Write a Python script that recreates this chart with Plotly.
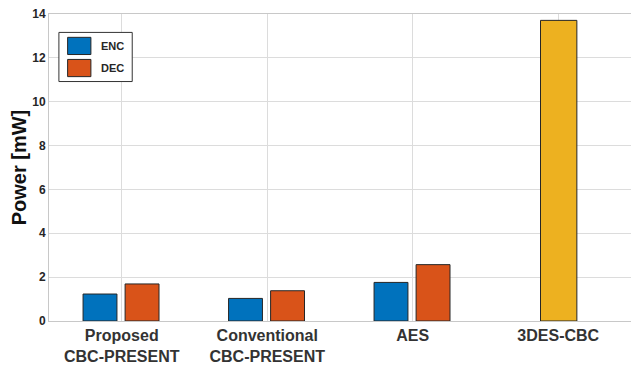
import plotly.graph_objects as go

categories = ["Proposed<br>CBC-PRESENT", "Conventional<br>CBC-PRESENT", "AES", "3DES-CBC"]
enc_values = [1.23, 1.03, 1.76]
dec_values = [1.69, 1.38, 2.57]
des3_values = [13.71]
y_ticks = [0, 2, 4, 6, 8, 10, 12, 14]

C_ENC = "#0072BD"
C_DEC = "#D95319"
C_3DES = "#EDB120"
EDGE = "#262626"
FONT = "Arial, Liberation Sans, sans-serif"

fig = go.Figure()
fig.add_trace(go.Bar(x=[1, 2, 3], y=enc_values, name="ENC", width=0.233, offset=-0.266,
                     marker=dict(color=C_ENC, line=dict(color=EDGE, width=1)), showlegend=False))
fig.add_trace(go.Bar(x=[1, 2, 3], y=dec_values, name="DEC", width=0.233, offset=0.023,
                     marker=dict(color=C_DEC, line=dict(color=EDGE, width=1)), showlegend=False))
fig.add_trace(go.Bar(x=[4], y=des3_values, name="3DES", width=0.25, offset=-0.122,
                     marker=dict(color=C_3DES, line=dict(color=EDGE, width=1)), showlegend=False))

# custom legend (paper coordinates)
shapes = [
    dict(type="rect", xref="paper", yref="paper", x0=0.017, x1=0.143, y0=0.78, y1=0.94,
         line=dict(color="#333333", width=1), fillcolor="white", layer="above"),
    dict(type="rect", xref="paper", yref="paper", x0=0.032, x1=0.072, y0=0.868, y1=0.924,
         line=dict(color=EDGE, width=1), fillcolor=C_ENC, layer="above"),
    dict(type="rect", xref="paper", yref="paper", x0=0.032, x1=0.072, y0=0.796, y1=0.852,
         line=dict(color=EDGE, width=1), fillcolor=C_DEC, layer="above"),
]
annotations = [
    dict(xref="paper", yref="paper", x=0.086, y=0.896, text="ENC", showarrow=False,
         xanchor="left", yanchor="middle", font=dict(family=FONT, size=11, color="#262626", weight="bold")),
    dict(xref="paper", yref="paper", x=0.086, y=0.824, text="DEC", showarrow=False,
         xanchor="left", yanchor="middle", font=dict(family=FONT, size=11, color="#262626", weight="bold")),
]

# page body has an 8px margin: figure is 631x360 placed at (8, 8)
fig.update_layout(
    width=631, height=360,
    margin=dict(l=41, r=8, t=6, b=47),
    plot_bgcolor="white", paper_bgcolor="white",
    barmode="overlay",
    shapes=shapes, annotations=annotations,
    font=dict(family=FONT, color="#262626"),
)
fig.update_xaxes(
    range=[0.5, 4.5], tickmode="array", tickvals=[1, 2, 3, 4], ticktext=categories,
    showgrid=True, gridcolor="#dcdcdc", gridwidth=1,
    showline=True, linecolor="#c8c8c8", mirror=True, ticks="",
    tickfont=dict(family=FONT, size=16, color="#333333", weight="bold"),
    zeroline=False, automargin=False,
)
fig.update_yaxes(
    range=[0, 14], tickmode="array", tickvals=y_ticks,
    showgrid=True, gridcolor="#dcdcdc", gridwidth=1,
    showline=True, linecolor="#c8c8c8", mirror=True, ticks="",
    tickfont=dict(family=FONT, size=12, color="#262626", weight="bold"),
    ticklabeloverflow="allow",
    title=dict(text="Power [mW]", font=dict(family=FONT, size=20, color="#111111", weight="bold"), standoff=6),
    zeroline=False, automargin=False,
)

fig.write_html("out.html")
